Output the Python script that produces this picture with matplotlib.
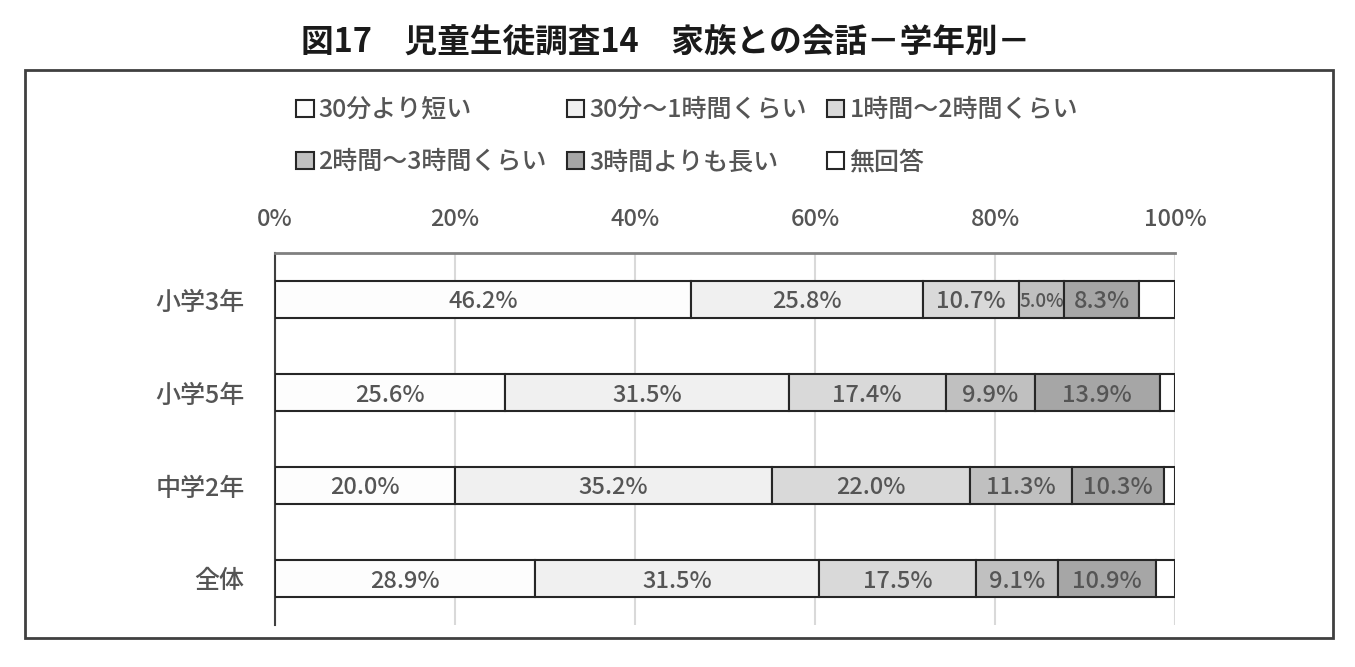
import matplotlib
matplotlib.use("Agg")
import matplotlib.pyplot as plt
from matplotlib.patches import Rectangle
import numpy as np

plt.rcParams['font.family'] = ['Noto Sans CJK JP', 'DejaVu Sans']

# --- データ ---
title = '図17　児童生徒調査14　家族との会話－学年別－'
grades = ['小学3年', '小学5年', '中学2年', '全体']
series_names = ['30分より短い', '30分～1時間くらい', '1時間～2時間くらい',
                '2時間～3時間くらい', '3時間よりも長い', '無回答']
under_30 = [46.2, 25.6, 20.0, 28.9]
h0_1 = [25.8, 31.5, 35.2, 31.5]
h1_2 = [10.7, 17.4, 22.0, 17.5]
h2_3 = [5.0, 9.9, 11.3, 9.1]
over_3 = [8.3, 13.9, 10.3, 10.9]
no_answer = [4.0, 1.7, 1.2, 2.1]
x_ticks = [0, 20, 40, 60, 80, 100]

colors = ['#fdfdfd', '#f0f0f0', '#d9d9d9', '#c0c0c0', '#a6a6a6', '#ffffff']
text_gray = '#555555'

series = [under_30, h0_1, h1_2, h2_3, over_3, no_answer]

fig = plt.figure(figsize=(13.55, 6.67), dpi=100)
fig.patch.set_facecolor('white')
ax = fig.add_axes([275 / 1355, 1 - 625 / 667, 900 / 1355, 372 / 667])

y = np.arange(len(grades))
left = np.zeros(len(grades))
handles = []
for i, (vals, name, c) in enumerate(zip(series, series_names, colors)):
    vals = np.array(vals)
    bars = ax.barh(y, vals, left=left, height=0.39, color=c,
                   edgecolor='#262626', linewidth=1.5, label=name, zorder=3)
    handles.append(bars)
    if i < 5:
        labels = [f'{v:.1f}%' for v in vals]
        txts = ax.bar_label(bars, labels=labels, label_type='center',
                            color=text_gray, fontsize=17, fontweight='medium')
        # 細いセグメントは少し詰めて表示
        for t, v in zip(txts, vals):
            t.set_va('center_baseline')
            if v < 6:
                t.set_fontsize(13.5)
    left += vals

ax.set_xlim(0, 100)
ax.set_ylim(len(grades) - 0.5, -0.5)
ax.set_yticks(y)
ax.set_yticklabels(grades, fontsize=18, color=text_gray, fontweight='medium')
ax.set_xticks(x_ticks)
ax.set_xticklabels([f'{v}%' for v in x_ticks], fontsize=17, color=text_gray,
                   fontweight='medium')
ax.xaxis.tick_top()
ax.tick_params(axis='x', length=0, pad=16)
ax.tick_params(axis='y', length=0, pad=22)
ax.grid(axis='x', color='#d9d9d9', linewidth=1.5, zorder=0)
ax.set_axisbelow(True)
for s in ['right', 'bottom']:
    ax.spines[s].set_visible(False)
ax.spines['top'].set_color('#808080')
ax.spines['top'].set_linewidth(2)
ax.spines['left'].set_color('#404040')
ax.spines['left'].set_linewidth(1.5)

# 凡例 (行方向に並べる)
order = [0, 3, 1, 4, 2, 5]
leg = fig.legend([handles[i] for i in order], [series_names[i] for i in order],
                 ncol=3, loc='upper left', bbox_to_anchor=(296 / 1355, 1 - 97 / 667),
                 frameon=False, handlelength=0.7, handleheight=0.7,
                 handletextpad=0.2, columnspacing=0.8, labelspacing=1.05,
                 borderpad=0, borderaxespad=0,
                 prop={'size': 18, 'weight': 'medium'})
for t in leg.get_texts():
    t.set_color(text_gray)

fig.text(666 / 1355, 1 - 43 / 667, title, ha='center', va='center',
         fontsize=23.5, fontweight='bold', color='#1a1a1a')

# 外枠
fig.patches.append(Rectangle((25 / 1355, 1 - 638 / 667), 1308 / 1355, 568 / 667,
                             transform=fig.transFigure, fill=False,
                             edgecolor='#404040', linewidth=2))

fig.savefig('out.png', dpi=100, facecolor='white')
